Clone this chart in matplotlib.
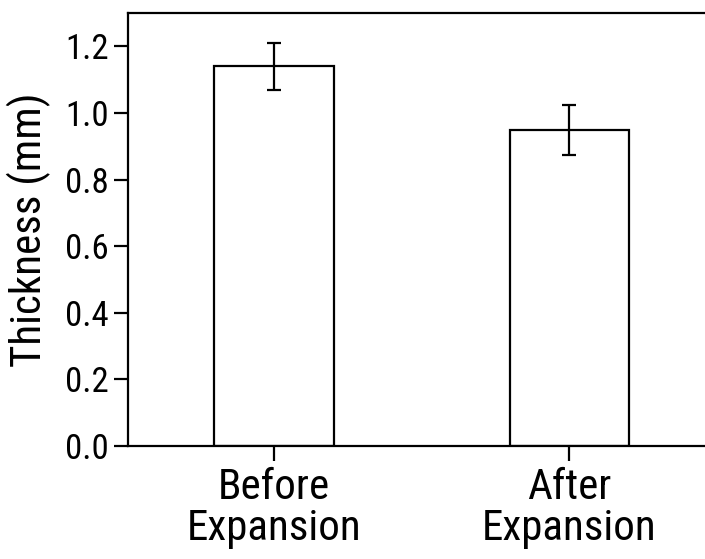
import matplotlib
matplotlib.use("Agg")
import matplotlib.pyplot as plt
import numpy as np

# data
groups = ["Before\nExpansion", "After\nExpansion"]
thickness = [1.14, 0.95]
errors = [0.07, 0.075]
yticks = [0.0, 0.2, 0.4, 0.6, 0.8, 1.0, 1.2]

plt.rcParams["font.family"] = ["Roboto Condensed", "Liberation Sans", "DejaVu Sans"]

fig = plt.figure(figsize=(7.05, 5.59), dpi=100)
ax = fig.add_axes([128 / 705, 1 - 446 / 559, (717 - 128) / 705, (446 - 13) / 559])

x = np.arange(len(groups))
ax.bar(x, thickness, width=0.404, color="white", edgecolor="black", linewidth=1.6)
ax.errorbar(x, thickness, yerr=errors, fmt="none", ecolor="black",
            elinewidth=1.6, capsize=5, capthick=1.6)

ax.set_xlim(-0.494, 1.5)
ax.set_ylim(0, 1.3)
ax.set_yticks(yticks)
ax.set_yticklabels([f"{v:.1f}" for v in yticks])
ax.set_xticks(x)
ax.set_xticklabels(groups, fontsize=31, linespacing=1.0)
ax.set_ylabel("Thickness (mm)", fontsize=31, labelpad=10)

ax.tick_params(axis="y", labelsize=25, length=10, width=1.6, pad=4, direction="out")
ax.tick_params(axis="x", length=11, width=1.6, pad=4, direction="out")
for s in ax.spines.values():
    s.set_linewidth(1.6)
ax.spines["right"].set_visible(False)

fig.savefig("out.png", dpi=100)
